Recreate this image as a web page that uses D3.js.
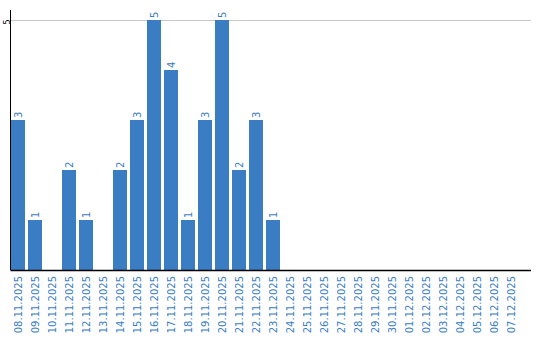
<!DOCTYPE html>
<html><head><meta charset="utf-8">
<script src="https://cdn.jsdelivr.net/npm/d3@7"></script>
<style>body{margin:0;background:#fff}svg{display:block}</style>
</head><body>
<svg id="c" width="540" height="340"></svg>
<script>
const categories = ["08.11.2025","09.11.2025","10.11.2025","11.11.2025","12.11.2025","13.11.2025","14.11.2025","15.11.2025","16.11.2025","17.11.2025","18.11.2025","19.11.2025","20.11.2025","21.11.2025","22.11.2025","23.11.2025","24.11.2025","25.11.2025","26.11.2025","27.11.2025","28.11.2025","29.11.2025","30.11.2025","01.12.2025","02.12.2025","03.12.2025","04.12.2025","05.12.2025","06.12.2025","07.12.2025"];
const values = [3,1,0,2,1,0,2,3,5,4,1,3,5,2,3,1,0,0,0,0,0,0,0,0,0,0,0,0,0,0];
const yTicks = [5];

const svg = d3.select("#c");
const blue = "#3a7dc2";
const x = d3.scaleBand().domain(categories).range([11, 518]).paddingInner(3/17).paddingOuter(0);
const y = d3.scaleLinear().domain([0, 5.2]).range([270, 10]);

// gridlines
svg.append("g").selectAll("line").data(yTicks).join("line")
  .attr("x1", 11).attr("x2", 531)
  .attr("y1", d => Math.round(y(d)) + 0.5).attr("y2", d => Math.round(y(d)) + 0.5)
  .attr("stroke", "#c8c8c8").attr("stroke-width", 1);

// bars
svg.append("g").selectAll("rect").data(values.map((v,i)=>({c:categories[i],v}))).join("rect")
  .attr("x", d => x(d.c)).attr("width", x.bandwidth())
  .attr("y", d => y(d.v)).attr("height", d => y(0) - y(d.v))
  .attr("fill", blue);

// value labels
svg.append("g").selectAll("text").data(values.map((v,i)=>({c:categories[i],v})).filter(d=>d.v>0)).join("text")
  .attr("transform", d => `translate(${x(d.c)+x.bandwidth()/2+3.5},${y(d.v)-2}) rotate(-90)`)
  .attr("font-family","DejaVu Sans, Verdana, sans-serif").attr("font-size", 10)
  .attr("fill", blue).text(d => d.v);

// x axis
const xa = svg.append("g").attr("transform","translate(0,270)")
  .call(d3.axisBottom(x).tickSize(0).tickPadding(0));
xa.select(".domain").attr("d","M10.5,0.5H531").attr("stroke","#000").attr("stroke-width",1.5);
xa.selectAll(".tick text")
  .attr("transform","rotate(-90)").attr("text-anchor","end")
  .attr("x",-6).attr("y",0).attr("dy","0.35em")
  .attr("font-family","DejaVu Sans, Verdana, sans-serif").attr("font-size",10)
  .attr("fill",blue);

// y axis
const ya = svg.append("g").attr("transform","translate(10.5,0)")
  .call(d3.axisLeft(y).tickValues(yTicks).tickFormat(d3.format("d")).tickSize(0).tickPadding(0));
ya.select(".domain").attr("d","M0,10V270").attr("stroke","#000").attr("stroke-width",1);
ya.selectAll(".tick text")
  .attr("transform","rotate(-90)").attr("text-anchor","middle")
  .attr("x",0).attr("y",-3)
  .attr("font-family","DejaVu Sans, Verdana, sans-serif").attr("font-size",8)
  .attr("fill","#000");
ya.selectAll(".tick").attr("transform", d => `translate(0,${y(d)+2})`);
</script>
</body></html>
